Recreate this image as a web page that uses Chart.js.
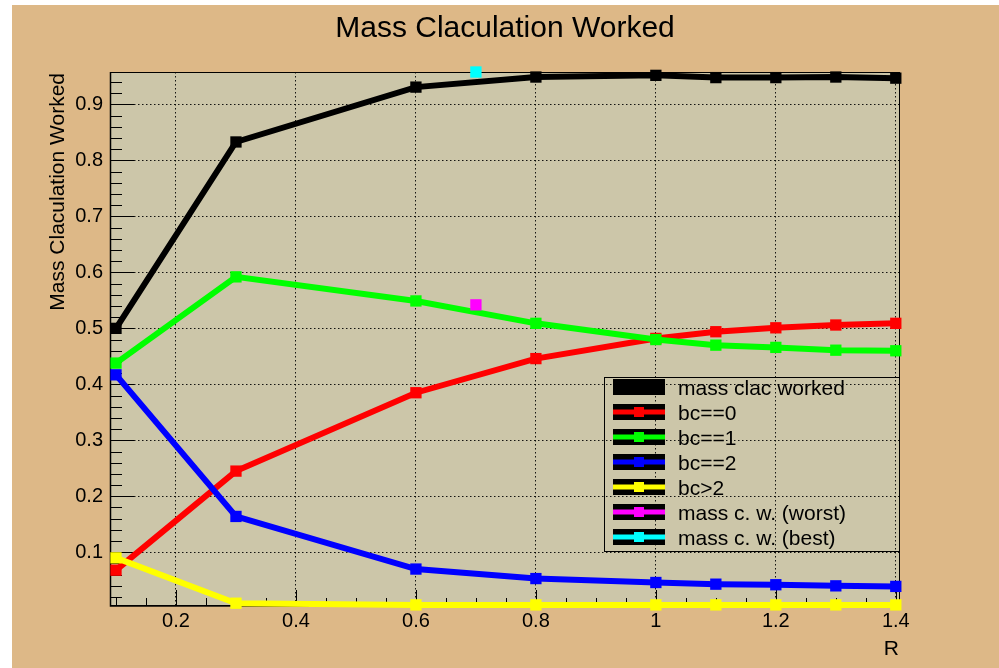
<!DOCTYPE html>
<html>
<head>
<meta charset="utf-8">
<title>Mass Claculation Worked</title>
<script src="https://cdn.jsdelivr.net/npm/chart.js@4/dist/chart.umd.min.js"></script>
<style>
  html, body { margin: 0; padding: 0; background: #ffffff; }
  #pad { position: absolute; left: 12px; top: 5px; width: 987px; height: 663px; background: #ddb887; }
  canvas { display: block; }
</style>
</head>
<body>
<div id="pad"><canvas id="chart" width="987" height="663"></canvas></div>
<script>
// ---- data -------------------------------------------------------------
const rValues        = [0.1, 0.3, 0.6, 0.8, 1.0, 1.1, 1.2, 1.3, 1.4];
const massClacWorked = [0.500, 0.833, 0.931, 0.949, 0.952, 0.948, 0.948, 0.949, 0.947];
const bcEq0          = [0.068, 0.245, 0.385, 0.446, 0.482, 0.494, 0.501, 0.506, 0.509];
const bcEq1          = [0.438, 0.592, 0.549, 0.509, 0.480, 0.470, 0.466, 0.461, 0.460];
const bcEq2          = [0.417, 0.164, 0.070, 0.053, 0.046, 0.043, 0.042, 0.040, 0.039];
const bcGt2          = [0.090, 0.009, 0.006, 0.006, 0.006, 0.006, 0.006, 0.006, 0.006];
const worstR         = [0.7];
const worstValue     = [0.542];
const bestR          = [0.7];
const bestValue      = [0.958];

const seriesNames = ['mass clac worked', 'bc==0', 'bc==1', 'bc==2', 'bc>2',
                     'mass c. w. (worst)', 'mass c. w. (best)'];

const xTickValues = [0.2, 0.4, 0.6, 0.8, 1.0, 1.2, 1.4];
const yTickValues = [0.1, 0.2, 0.3, 0.4, 0.5, 0.6, 0.7, 0.8, 0.9];

// ---- styling ----------------------------------------------------------
const FONT = '"Liberation Sans", Arial, Helvetica, sans-serif';
const FRAME_FILL = '#ccc6a9';
const colors = ['#000000', '#ff0000', '#00ff00', '#0000ff', '#ffff00', '#ff00ff', '#00ffff'];

function pairs(xs, ys) { return xs.map((x, i) => ({ x: x, y: ys[i] })); }

const seriesData = [
  pairs(rValues, massClacWorked),
  pairs(rValues, bcEq0),
  pairs(rValues, bcEq1),
  pairs(rValues, bcEq2),
  pairs(rValues, bcGt2),
  pairs(worstR, worstValue),
  pairs(bestR, bestValue)
];

const datasets = seriesData.map((d, i) => ({
  label: seriesNames[i],
  data: d,
  borderColor: colors[i],
  backgroundColor: colors[i],
  borderWidth: 6,
  showLine: i < 5,
  pointStyle: 'rect',
  pointRadius: 8,
  pointHoverRadius: 8,
  pointBorderWidth: 0,
  tension: 0,
  clip: false,
  order: seriesData.length - i   // later series painted on top
}));

// frame fill, inward ticks and the box around the plot
const framePlugin = {
  id: 'rootFrame',
  beforeDraw(chart) {
    const { ctx, chartArea: a } = chart;
    ctx.save();
    ctx.fillStyle = FRAME_FILL;
    ctx.fillRect(a.left, a.top, a.right - a.left, a.bottom - a.top);
    ctx.restore();
  },
  beforeDatasetsDraw(chart) {
    const { ctx, chartArea: a, scales } = chart;
    const xs = scales.x, ys = scales.y;
    ctx.save();
    ctx.strokeStyle = '#000';
    ctx.lineWidth = 1;
    ctx.beginPath();
    // y axis: major every 0.1, minor every 0.02
    for (let k = 1; k <= 47; k++) {
      const v = k * 0.02;
      if (v < ys.min || v > ys.max) continue;
      const py = Math.round(ys.getPixelForValue(v)) + 0.5;
      const major = (k % 5 === 0);
      ctx.moveTo(a.left, py);
      ctx.lineTo(a.left + (major ? 24 : 12), py);
    }
    // x axis: major every 0.2, minor every 0.05
    for (let k = 2; k <= 28; k++) {
      const v = k * 0.05;
      if (v < xs.min || v > xs.max) continue;
      const px = Math.round(xs.getPixelForValue(v)) + 0.5;
      const major = (k % 4 === 0);
      ctx.moveTo(px, a.bottom);
      ctx.lineTo(px, a.bottom - (major ? 16 : 8));
    }
    ctx.stroke();
    ctx.strokeRect(a.left + 0.5, a.top + 0.5, a.right - a.left - 1, a.bottom - a.top - 1);
    ctx.lineWidth = 1.5;
    ctx.beginPath();
    ctx.moveTo(a.left + 0.5, a.top);
    ctx.lineTo(a.left + 0.5, a.bottom);
    ctx.lineTo(a.right, a.bottom - 0.5);
    ctx.stroke();
    ctx.restore();
  },
  afterDraw(chart) {
    const { ctx, chartArea: a } = chart;
    ctx.save();
    ctx.fillStyle = '#000';
    ctx.textBaseline = 'alphabetic';
    // title
    ctx.font = '30px ' + FONT;
    ctx.textAlign = 'center';
    ctx.fillText('Mass Claculation Worked', (a.left + a.right) / 2, 32);
    // x title
    ctx.font = '21px ' + FONT;
    ctx.textAlign = 'right';
    ctx.fillText('R', a.right - 1, 650);
    // y title
    ctx.translate(52, a.top + 1);
    ctx.rotate(-Math.PI / 2);
    ctx.textAlign = 'right';
    ctx.fillText('Mass Claculation Worked', 0, 0);
    ctx.restore();
  }
};

// legend box with line+marker symbols
const legendPlugin = {
  id: 'boxLegend',
  afterDatasetsDraw(chart) {
    const { ctx, chartArea: a } = chart;
    const right = a.right, left = right - 296;
    const top = 372, bottom = 546;
    ctx.save();
    ctx.strokeStyle = '#000';
    ctx.lineWidth = 1;
    ctx.strokeRect(left + 0.5, top + 0.5, right - left - 1, bottom - top);
    ctx.font = '21px ' + FONT;
    ctx.textAlign = 'left';
    ctx.textBaseline = 'alphabetic';
    chart.data.datasets.forEach((ds, i) => {
      const cy = 382 + 25 * i;
      const sx = left + 9, sw = 52;
      ctx.fillStyle = '#000';
      ctx.fillRect(sx, cy - 8, sw, 16);
      if (i > 0) {
        ctx.fillStyle = ds.borderColor;
        ctx.fillRect(sx, cy - 2.5, sw, 5);
        ctx.fillRect(sx + sw / 2 - 5, cy - 5, 10, 10);
      }
      ctx.fillStyle = '#000';
      ctx.fillText(ds.label, left + 74, cy + 8);
    });
    ctx.restore();
  }
};

const fmt = v => String(Number(v.toFixed(2)));

new Chart(document.getElementById('chart'), {
  type: 'line',
  data: { datasets: datasets },
  options: {
    responsive: false,
    animation: false,
    events: [],
    layout: { padding: { top: 67, right: 99, bottom: 0, left: 0 } },
    plugins: { legend: { display: false }, title: { display: false }, tooltip: { enabled: false } },
    scales: {
      x: {
        type: 'linear',
        min: 0.09,
        max: 1.407,
        afterBuildTicks: s => { s.ticks = xTickValues.map(v => ({ value: v })); },
        afterFit: s => { s.height = 62; },
        grid: { color: 'rgba(0,0,0,0.9)', lineWidth: 1, drawTicks: false },
        border: { display: false, dash: [1.5, 2.5] },
        ticks: { color: '#000', padding: 3, maxRotation: 0, autoSkip: false,
                 font: { family: FONT, size: 20 }, callback: fmt }
      },
      y: {
        type: 'linear',
        min: 0.004,
        max: 0.958,
        afterBuildTicks: s => { s.ticks = yTickValues.map(v => ({ value: v })); },
        afterFit: s => { s.width = 98; },
        grid: { color: 'rgba(0,0,0,0.9)', lineWidth: 1, drawTicks: false },
        border: { display: false, dash: [1.5, 2.5] },
        ticks: { color: '#000', padding: 7, autoSkip: false,
                 font: { family: FONT, size: 20 }, callback: fmt }
      }
    }
  },
  plugins: [framePlugin, legendPlugin]
});
</script>
</body>
</html>
